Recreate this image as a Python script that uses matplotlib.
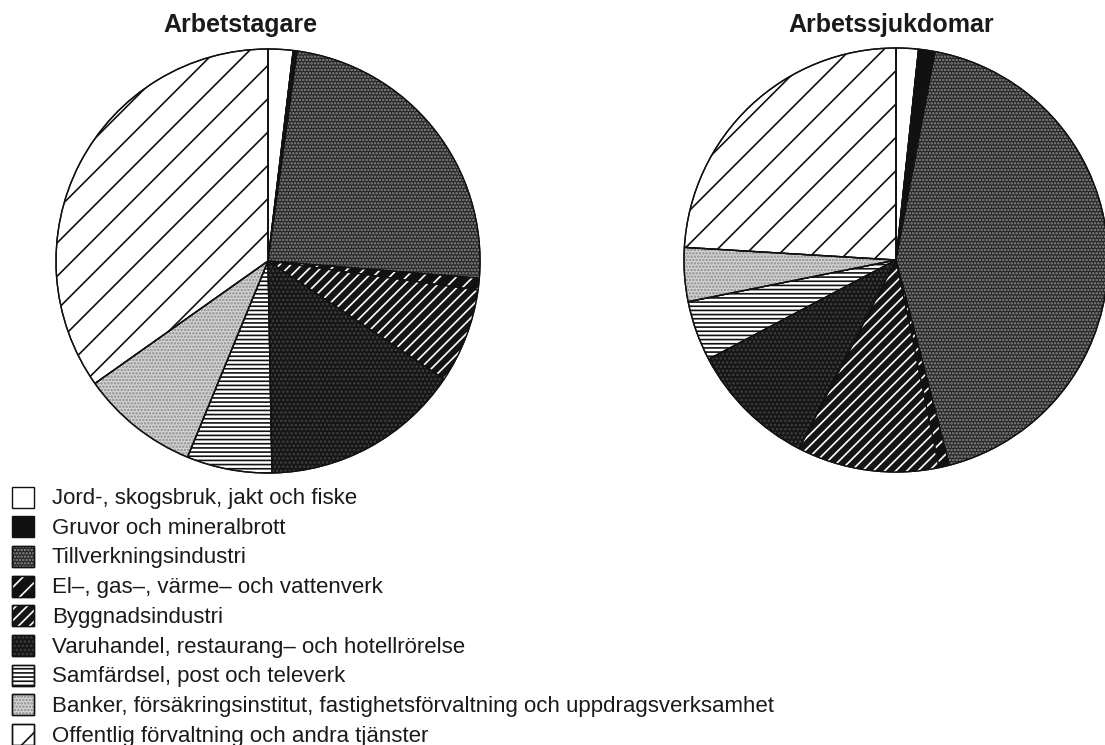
import matplotlib
matplotlib.use("Agg")
import matplotlib.pyplot as plt
from matplotlib.patches import Wedge, Rectangle

plt.rcParams['font.family'] = ['Liberation Sans', 'DejaVu Sans']
plt.rcParams['hatch.linewidth'] = 1.2

# ---- data -------------------------------------------------------------
categories = [
    "Jord-, skogsbruk, jakt och fiske",
    "Gruvor och mineralbrott",
    "Tillverkningsindustri",
    "El\u2013, gas\u2013, v\u00e4rme\u2013 och vattenverk",
    "Byggnadsindustri",
    "Varuhandel, restaurang\u2013 och hotellr\u00f6relse",
    "Samf\u00e4rdsel, post och televerk",
    "Banker, f\u00f6rs\u00e4kringsinstitut, fastighetsf\u00f6rvaltning och uppdragsverksamhet",
    "Offentlig f\u00f6rvaltning och andra tj\u00e4nster",
]
arbetstagare = [1.9, 0.3, 24.1, 0.9, 7.2, 15.3, 6.5, 9.0, 34.8]
arbetssjukdomar = [1.7, 1.25, 43.0, 0.8, 10.8, 9.7, 4.6, 4.1, 24.05]
titles = ["Arbetstagare", "Arbetssjukdomar"]

# ---- styles (face colour, hatch, hatch colour) -------------------------
styles = [
    ("white", None, None),
    ("#111111", None, None),
    ("#262626", ".....", "#8c8c8c"),
    ("#111111", "//", "white"),
    ("#151515", "///", "white"),
    ("#161616", "....", "#404040"),
    ("white", "----", "#111111"),
    ("#d4d4d4", ".....", "#8a8a8a"),
    ("white", "/", "#111111"),
]

W, H = 1105, 745
fig = plt.figure(figsize=(W / 100, H / 100), dpi=100)
ax = fig.add_axes([0, 0, 1, 1])

pies = [
    (arbetstagare, (268, H - 261), 212, (240, H - 32)),
    (arbetssjukdomar, (896, H - 260), 212, (891, H - 32)),
]

for (vals, center, radius, tpos), title in zip(pies, titles):
    wedges, _ = ax.pie(vals, startangle=90, counterclock=False,
                       center=center, radius=radius,
                       colors=[s[0] for s in styles],
                       wedgeprops=dict(edgecolor="#111111", linewidth=1.0))
    for w, (fc, hatch, hc) in zip(wedges, styles):
        if hatch:
            ax.add_patch(Wedge(w.center, w.r, w.theta1, w.theta2,
                               fill=False, hatch=hatch, edgecolor=hc,
                               linewidth=0))
        ax.add_patch(Wedge(w.center, w.r, w.theta1, w.theta2,
                           fill=False, edgecolor="#111111", linewidth=1.0))
    ax.text(tpos[0], tpos[1], title, ha="center", va="baseline",
            fontsize=18, fontweight="bold", color="#1a1a1a")

# ---- legend (drawn manually) ------------------------------------------
row0, step = 497, 29.7
for i, (lab, (fc, hatch, hc)) in enumerate(zip(categories, styles)):
    yc = H - (row0 + i * step)
    ax.add_patch(Rectangle((12, yc - 10.5), 22, 21, facecolor=fc,
                           edgecolor="#111111", linewidth=1.0))
    if hatch:
        ax.add_patch(Rectangle((12, yc - 10.5), 22, 21, fill=False,
                               hatch=hatch, edgecolor=hc, linewidth=0))
        ax.add_patch(Rectangle((12, yc - 10.5), 22, 21, fill=False,
                               edgecolor="#111111", linewidth=1.0))
    ax.text(52, yc - 7, lab, ha="left", va="baseline", fontsize=16,
            color="#1a1a1a")

ax.set_xlim(0, W)
ax.set_ylim(0, H)
ax.set_aspect("auto")
ax.axis("off")

fig.savefig("out.png", dpi=100, facecolor="white")
